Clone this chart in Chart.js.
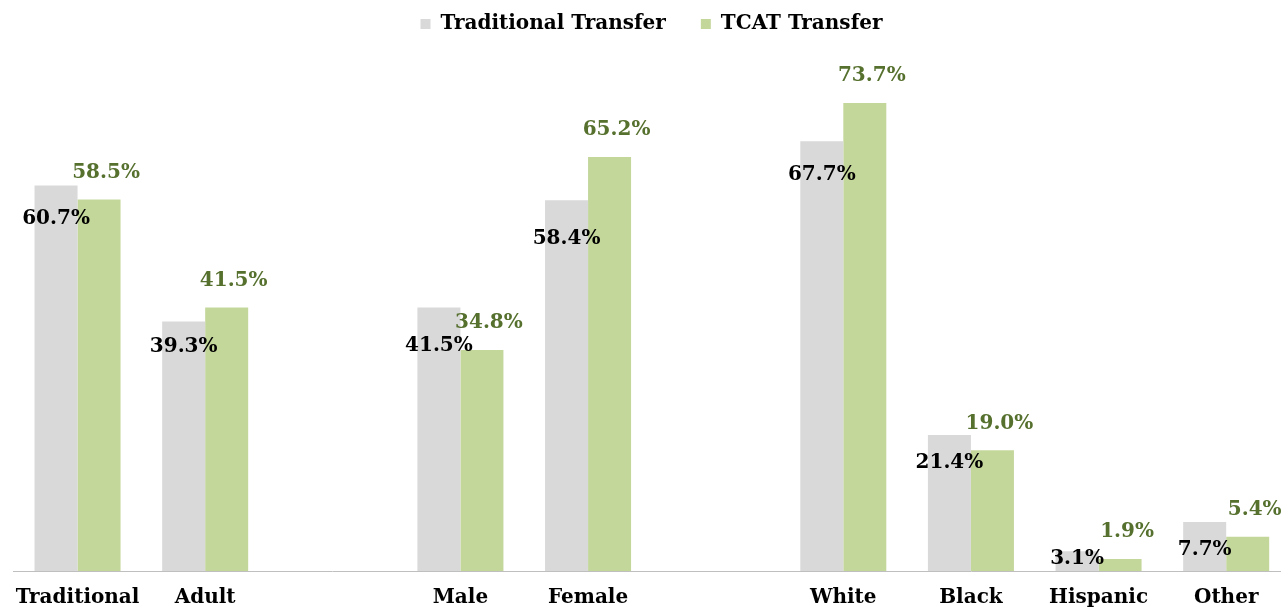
<!DOCTYPE html>
<html>
<head>
<meta charset="utf-8">
<script src="https://cdn.jsdelivr.net/npm/chart.js@4/dist/chart.umd.min.js"></script>
<style>
html,body{margin:0;padding:0;background:#fff;overflow:hidden;}
#wrap{position:absolute;left:0;top:0;width:1300px;height:640px;}
</style>
</head>
<body>
<div id="wrap"><canvas id="c"></canvas></div>
<script>
// Categories (empty strings are the gaps between groups)
const categories = ['Traditional', 'Adult', '', 'Male', 'Female', '', 'White', 'Black', 'Hispanic', 'Other'];
// Series values (percent)
const traditionalTransfer = [60.7, 39.3, null, 41.5, 58.4, null, 67.7, 21.4, 3.1, 7.7];
const tcatTransfer        = [58.5, 41.5, null, 34.8, 65.2, null, 73.7, 19.0, 1.9, 5.4];
const seriesNames = ['Traditional Transfer', 'TCAT Transfer'];

// label styling (vertical nudges of the gray labels, relative to bar top)
const grayLabelNudge = [33, 25, 0, 38, 39, 0, 34, 28, 7, 28];
const FONT = '"DejaVu Serif", serif';

const valueLabels = {
  id: 'valueLabels',
  afterDatasetsDraw(chart) {
    const ctx = chart.ctx;
    ctx.save();
    ctx.font = 'bold 20px ' + FONT;
    ctx.textAlign = 'center';
    ctx.textBaseline = 'middle';
    chart.data.datasets.forEach((ds, di) => {
      const meta = chart.getDatasetMeta(di);
      meta.data.forEach((el, i) => {
        const v = ds.data[i];
        if (v === null || v === undefined) return;
        const txt = v.toFixed(1) + '%';
        if (di === 0) {
          ctx.fillStyle = '#000000';
          ctx.fillText(txt, el.x, el.y + grayLabelNudge[i]);
        } else {
          ctx.fillStyle = '#56702e';
          ctx.fillText(txt, el.x + 7, el.y - 27);
        }
      });
    });
    ctx.restore();
  }
};

new Chart(document.getElementById('c'), {
  type: 'bar',
  data: {
    labels: categories,
    datasets: [
      { label: seriesNames[0], data: traditionalTransfer, backgroundColor: '#d9d9d9',
        barPercentage: 1.0, categoryPercentage: 0.674 },
      { label: seriesNames[1], data: tcatTransfer, backgroundColor: '#c4d79b',
        barPercentage: 1.0, categoryPercentage: 0.674 }
    ]
  },
  options: {
    responsive: true,
    maintainAspectRatio: false,
    animation: false,
    layout: { padding: { left: 13, right: 10, top: -21, bottom: 15 } },
    plugins: {
      legend: {
        display: true,
        position: 'top',
        labels: {
          boxWidth: 10, boxHeight: 10, padding: 35,
          color: '#000000',
          font: { family: FONT, size: 20, weight: 'bold' }
        }
      },
      tooltip: { enabled: false }
    },
    scales: {
      x: {
        grid: { display: false, drawTicks: false },
        border: { display: true, color: '#bfbfbf', width: 1 },
        ticks: { color: '#000000', padding: 15, autoSkip: false, maxRotation: 0,
                 font: { family: FONT, size: 20, weight: 'bold' } }
      },
      y: {
        display: false,
        min: 0,
        max: 83
      }
    }
  },
  plugins: [valueLabels]
});
</script>
</body>
</html>
